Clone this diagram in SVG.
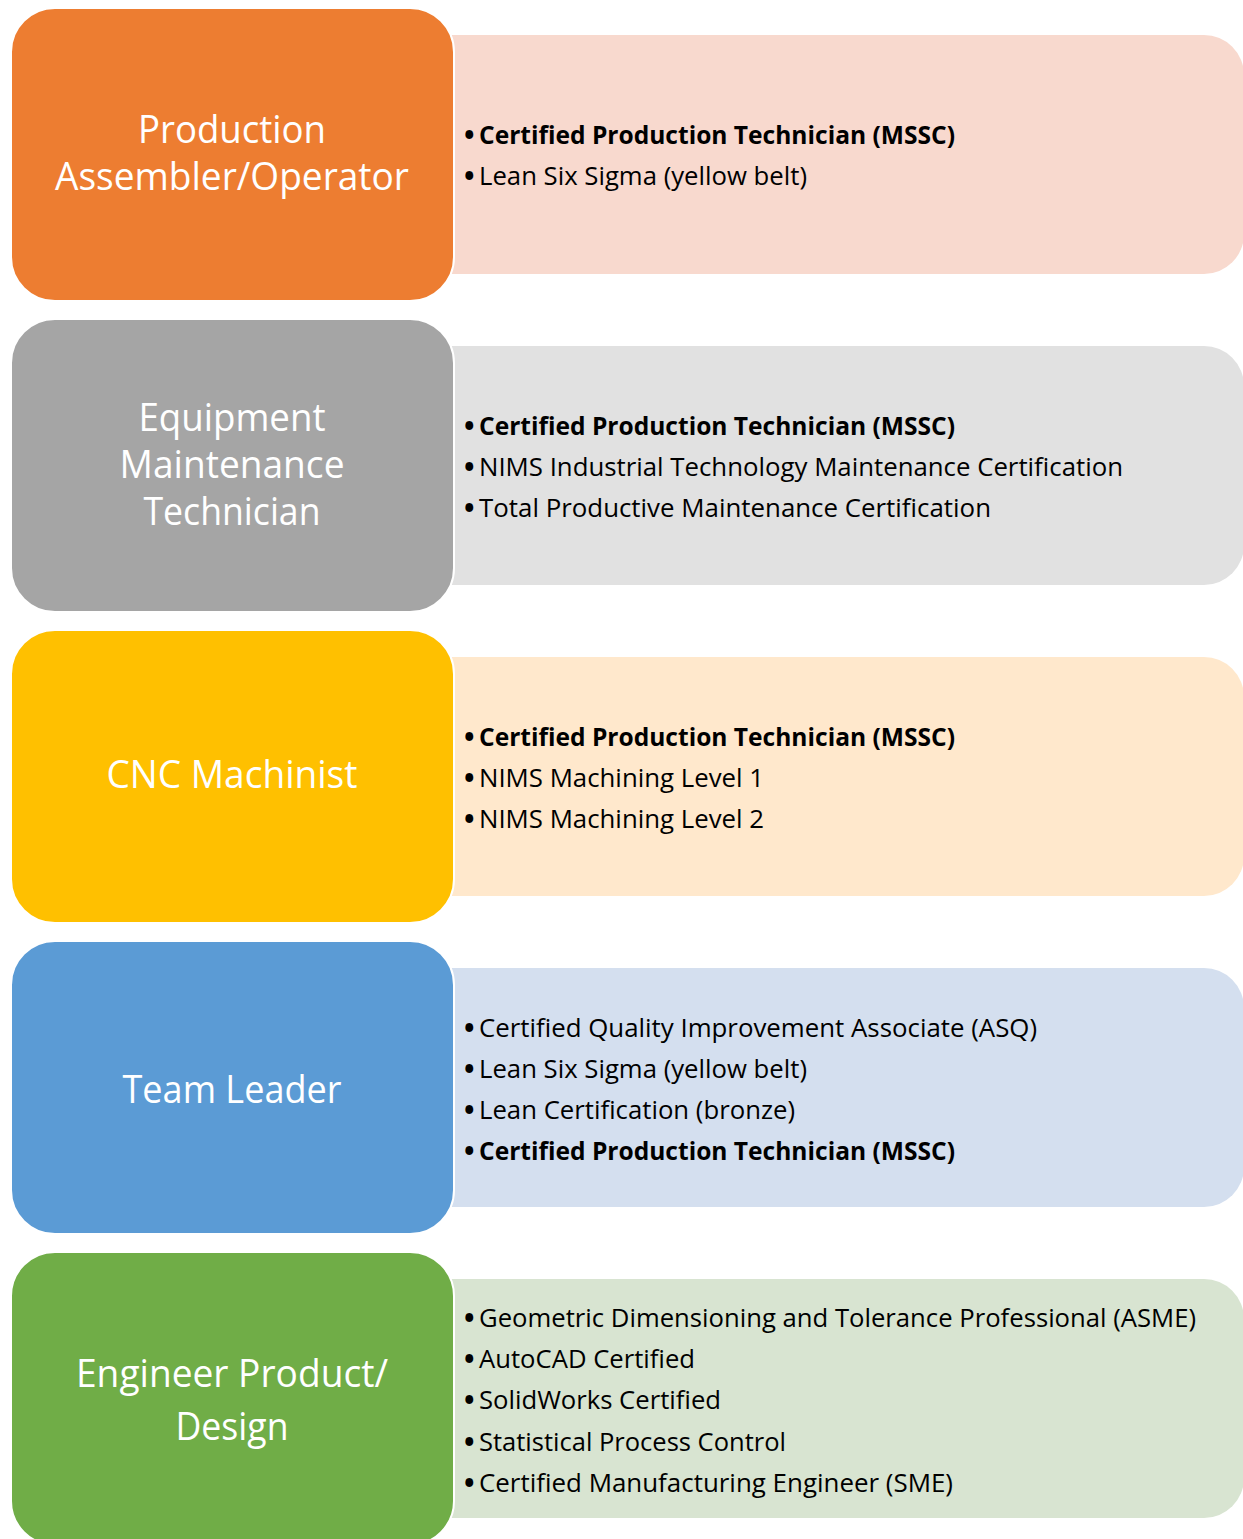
<svg xmlns="http://www.w3.org/2000/svg" xmlns:xlink="http://www.w3.org/1999/xlink" width="1243" height="1539" viewBox="0 0 1243 1539">
  <style>
    .box { stroke: #FFFFFF; stroke-width: 2; }
    .title { font-family: "Open Sans", "Noto Sans", sans-serif; font-size: 38px; fill: #FFFFFF; text-anchor: middle; }
    .item { font-family: "Open Sans", "Noto Sans", sans-serif; font-size: 25px; fill: #000000; }
    .bold { font-weight: bold; }
    .dot { font-family: "Open Sans", "Noto Sans", sans-serif; font-size: 28px; font-weight: bold; fill: #000000; }
  </style>
  <defs>
    <path id="panel" d="M440,0 H1204 A40,40 0 0 1 1244,40 V199 A40,40 0 0 1 1204,239 H440 Z"/>
  </defs>
  <rect width="1243" height="1539" fill="#FFFFFF"/>

  <g id="node-production">
    <use xlink:href="#panel" href="#panel" transform="translate(0,35)" fill="#F8D9CE"/>
    <rect class="box" x="11" y="8" width="443" height="293" rx="44" fill="#ED7D31"/>
    <text class="title" x="232" y="143" textLength="188" lengthAdjust="spacingAndGlyphs">Production</text>
    <text class="title" x="232" y="190" textLength="354" lengthAdjust="spacingAndGlyphs">Assembler/Operator</text>
    <text class="dot" x="464" y="145">•</text>
    <text class="item bold" x="479" y="144" textLength="476" lengthAdjust="spacingAndGlyphs">Certified Production Technician (MSSC)</text>
    <text class="dot" x="464" y="186">•</text>
    <text class="item" x="479" y="185" textLength="328" lengthAdjust="spacingAndGlyphs">Lean Six Sigma (yellow belt)</text>
  </g>

  <g id="node-equipment">
    <use xlink:href="#panel" href="#panel" transform="translate(0,346)" fill="#E1E1E1"/>
    <rect class="box" x="11" y="319" width="443" height="293" rx="44" fill="#A5A5A5"/>
    <text class="title" x="232" y="431" textLength="187" lengthAdjust="spacingAndGlyphs">Equipment</text>
    <text class="title" x="232" y="478" textLength="225" lengthAdjust="spacingAndGlyphs">Maintenance</text>
    <text class="title" x="232" y="525" textLength="177" lengthAdjust="spacingAndGlyphs">Technician</text>
    <text class="dot" x="464" y="436">•</text>
    <text class="item bold" x="479" y="435" textLength="476" lengthAdjust="spacingAndGlyphs">Certified Production Technician (MSSC)</text>
    <text class="dot" x="464" y="477">•</text>
    <text class="item" x="479" y="476" textLength="644" lengthAdjust="spacingAndGlyphs">NIMS Industrial Technology Maintenance Certification</text>
    <text class="dot" x="464" y="518">•</text>
    <text class="item" x="479" y="517" textLength="512" lengthAdjust="spacingAndGlyphs">Total Productive Maintenance Certification</text>
  </g>

  <g id="node-cnc">
    <use xlink:href="#panel" href="#panel" transform="translate(0,657)" fill="#FFE8CC"/>
    <rect class="box" x="11" y="630" width="443" height="293" rx="44" fill="#FFC000"/>
    <text class="title" x="232" y="788" textLength="251" lengthAdjust="spacingAndGlyphs">CNC Machinist</text>
    <text class="dot" x="464" y="747">•</text>
    <text class="item bold" x="479" y="746" textLength="476" lengthAdjust="spacingAndGlyphs">Certified Production Technician (MSSC)</text>
    <text class="dot" x="464" y="788">•</text>
    <text class="item" x="479" y="787" textLength="285" lengthAdjust="spacingAndGlyphs">NIMS Machining Level 1</text>
    <text class="dot" x="464" y="829">•</text>
    <text class="item" x="479" y="828" textLength="285" lengthAdjust="spacingAndGlyphs">NIMS Machining Level 2</text>
  </g>

  <g id="node-team-leader">
    <use xlink:href="#panel" href="#panel" transform="translate(0,968)" fill="#D4DFEF"/>
    <rect class="box" x="11" y="941" width="443" height="293" rx="44" fill="#5B9BD5"/>
    <text class="title" x="232" y="1103" textLength="219" lengthAdjust="spacingAndGlyphs">Team Leader</text>
    <text class="dot" x="464" y="1038">•</text>
    <text class="item" x="479" y="1037" textLength="558" lengthAdjust="spacingAndGlyphs">Certified Quality Improvement Associate (ASQ)</text>
    <text class="dot" x="464" y="1079">•</text>
    <text class="item" x="479" y="1078" textLength="328" lengthAdjust="spacingAndGlyphs">Lean Six Sigma (yellow belt)</text>
    <text class="dot" x="464" y="1120">•</text>
    <text class="item" x="479" y="1119" textLength="316" lengthAdjust="spacingAndGlyphs">Lean Certification (bronze)</text>
    <text class="dot" x="464" y="1161">•</text>
    <text class="item bold" x="479" y="1160" textLength="476" lengthAdjust="spacingAndGlyphs">Certified Production Technician (MSSC)</text>
  </g>

  <g id="node-engineer">
    <use xlink:href="#panel" href="#panel" transform="translate(0,1279)" fill="#D8E4D1"/>
    <rect class="box" x="11" y="1252" width="443" height="293" rx="44" fill="#70AD47"/>
    <text class="title" x="232" y="1387" textLength="312" lengthAdjust="spacingAndGlyphs">Engineer Product/</text>
    <text class="title" x="232" y="1440" textLength="113" lengthAdjust="spacingAndGlyphs">Design</text>
    <text class="dot" x="464" y="1328">•</text>
    <text class="item" x="479" y="1327" textLength="717" lengthAdjust="spacingAndGlyphs">Geometric Dimensioning and Tolerance Professional (ASME)</text>
    <text class="dot" x="464" y="1369">•</text>
    <text class="item" x="479" y="1368" textLength="216" lengthAdjust="spacingAndGlyphs">AutoCAD Certified</text>
    <text class="dot" x="464" y="1410">•</text>
    <text class="item" x="479" y="1409" textLength="242" lengthAdjust="spacingAndGlyphs">SolidWorks Certified</text>
    <text class="dot" x="464" y="1452">•</text>
    <text class="item" x="479" y="1451" textLength="307" lengthAdjust="spacingAndGlyphs">Statistical Process Control</text>
    <text class="dot" x="464" y="1493">•</text>
    <text class="item" x="479" y="1492" textLength="474" lengthAdjust="spacingAndGlyphs">Certified Manufacturing Engineer (SME)</text>
  </g>
</svg>
